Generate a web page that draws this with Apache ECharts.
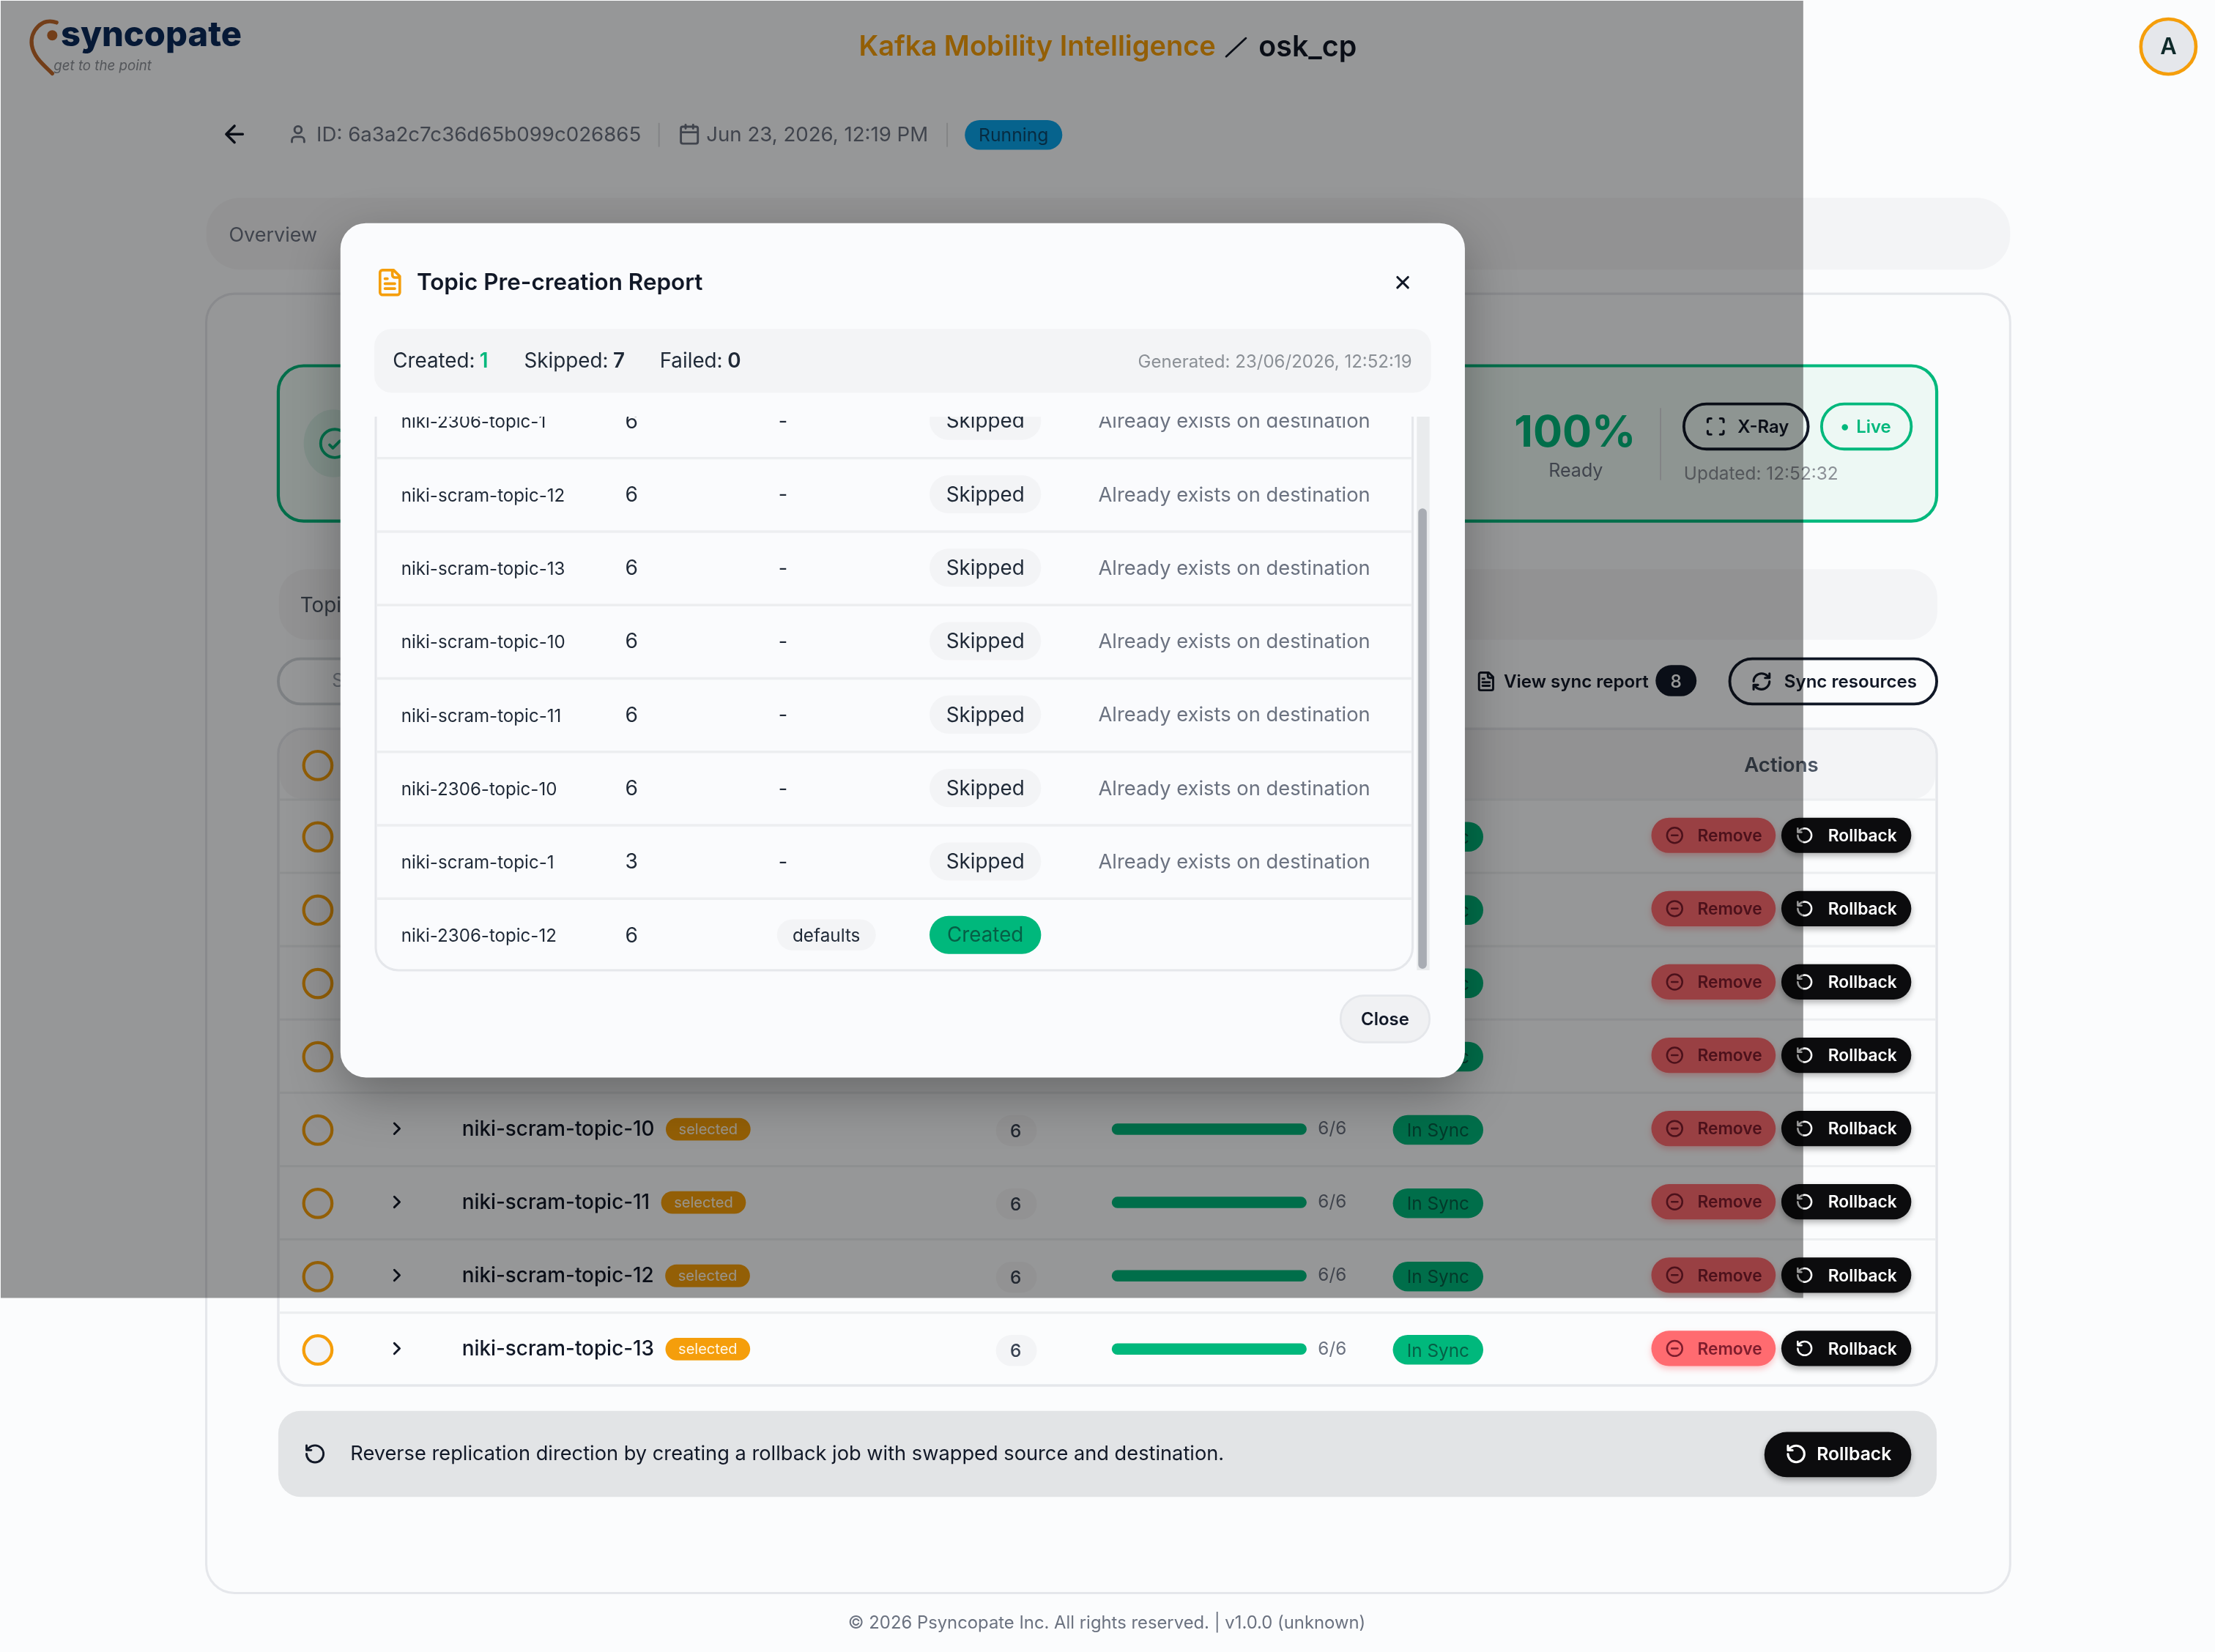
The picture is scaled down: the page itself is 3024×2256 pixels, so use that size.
<!DOCTYPE html>
<html>
<head>
<meta charset="utf-8">
<style>html,body{margin:0;padding:0;background:#fbfcfd}#main{width:3024px;height:2256px}</style>
<script src="https://cdn.jsdelivr.net/npm/echarts@6/dist/echarts.min.js"></script>
</head>
<body>
<div id="main"></div>
<script>
// sync table behind the dialog
var tableTopics = ['niki-2306-topic-1','niki-2306-topic-10','niki-2306-topic-12','niki-scram-topic-1','niki-scram-topic-10','niki-scram-topic-11','niki-scram-topic-12','niki-scram-topic-13'];
var tablePartitions = [6,6,6,3,6,6,6,6];
var tableSynced = [6,6,6,3,6,6,6,6];

// dialog table
var reportTopics = ['niki-2306-topic-1','niki-scram-topic-12','niki-scram-topic-13','niki-scram-topic-10','niki-scram-topic-11','niki-2306-topic-10','niki-scram-topic-1','niki-2306-topic-12'];
var reportPartitions = [6,6,6,6,6,6,3,6];
var reportConfigs = ['-','-','-','-','-','-','-','defaults'];
var reportStatus = ['Skipped','Skipped','Skipped','Skipped','Skipped','Skipped','Skipped','Created'];
var reportReasons = ['Already exists on destination','Already exists on destination','Already exists on destination','Already exists on destination','Already exists on destination','Already exists on destination','Already exists on destination',''];

var S = 3024 / 1568;   // reference was read at 1568 wide
var FONT = 'Inter';
var GREEN = '#00b87c', ORANGE = '#f59e0b', INK = '#111827', GREY = '#6b7280';

var ICON = {
    rotate: 'M3 12a9 9 0 1 0 9-9 9.75 9.75 0 0 0-6.74 2.74L3 8M3 3v5h5',
    minus: 'M22 12a10 10 0 1 1-20 0a10 10 0 1 1 20 0M8 12h8',
    chevron: 'M9 18l6-6-6-6',
    close: 'M18 6L6 18M6 6l12 12',
    back: 'M12 19l-7-7 7-7M19 12H5',
    user: 'M19 21v-2a4 4 0 0 0-4-4H9a4 4 0 0 0-4 4v2M16 7a4 4 0 1 1-8 0a4 4 0 1 1 8 0',
    calendar: 'M8 2v4M16 2v4M5 4h14a2 2 0 0 1 2 2v14a2 2 0 0 1-2 2H5a2 2 0 0 1-2-2V6a2 2 0 0 1 2-2zM3 10h18',
    file: 'M15 2H6a2 2 0 0 0-2 2v16a2 2 0 0 0 2 2h12a2 2 0 0 0 2-2V7ZM14 2v4a2 2 0 0 0 2 2h4M10 9H8M16 13H8M16 17H8',
    refresh: 'M3 12a9 9 0 0 1 9-9 9.75 9.75 0 0 1 6.74 2.74L21 8M21 3v5h-5M21 12a9 9 0 0 1-9 9 9.75 9.75 0 0 1-6.74-2.74L3 16M8 16H3v5',
    focus: 'M3 7V5a2 2 0 0 1 2-2h2M17 3h2a2 2 0 0 1 2 2v2M21 17v2a2 2 0 0 1-2 2h-2M7 21H5a2 2 0 0 1-2-2v-2',
    check: 'M20 6L9 17l-5-5',
    swoosh: 'M40 16C30 12 21 22 22.5 32C24 41 31 46 37 52',
    slash: 'M868 40L882 27'
};
// graphic has no plain path type, so each icon is registered as a shape
Object.keys(ICON).forEach(function (name) {
    echarts.graphic.registerShape('ic_' + name, echarts.graphic.extendPath(ICON[name], {}));
});

var els = [], zNow = 1;

function box(x, y, w, h, r, fill, stroke, lw, extra) {
    var style = { fill: fill || 'transparent', stroke: stroke || null, lineWidth: (lw || 0) * S };
    for (var k in extra) style[k] = extra[k];
    els.push({ type: 'rect', silent: true, z: zNow++, shape: { x: x * S, y: y * S, width: w * S, height: h * S, r: r * S }, style: style });
}
function txt(str, x, y, size, color, weight, align, family, italic) {
    els.push({ type: 'text', silent: true, z: zNow++, style: {
        text: str, x: x * S, y: (y + 0.7) * S, fill: color, fontSize: size * S, fontWeight: weight || 400,
        fontFamily: family || FONT, fontStyle: italic ? 'italic' : 'normal',
        align: align || 'left', verticalAlign: 'middle', textAlign: align || 'left', textVerticalAlign: 'middle'
    } });
}
function icon(name, cx, cy, size, color, lw) {
    var k = size * S / 24;
    els.push({ type: 'ic_' + name, silent: true, z: zNow++, x: cx * S - 12 * k, y: cy * S - 12 * k, scaleX: k, scaleY: k,
        style: { fill: 'none', stroke: color, lineWidth: (lw || 2) * S / k, lineCap: 'round', lineJoin: 'round' } });
}
function curve(name, color, lw) {
    els.push({ type: 'ic_' + name, silent: true, z: zNow++, x: 0, y: 0, scaleX: S, scaleY: S,
        style: { fill: 'none', stroke: color, lineWidth: lw, lineCap: 'round' } });
}
function dot(cx, cy, rx, ry, fill, stroke, lw) {
    els.push({ type: 'ellipse', silent: true, z: zNow++, shape: { cx: cx * S, cy: cy * S, rx: rx * S, ry: ry * S },
        style: { fill: fill || 'transparent', stroke: stroke || null, lineWidth: (lw || 0) * S } });
}
function textWidth(str, size) {
    var c = document.createElement('canvas').getContext('2d');
    c.font = '500 ' + size + 'px ' + FONT;
    return c.measureText(str).width;
}
function rowY(i) { return 592 + 51.9 * i; }

// ---- page behind the overlay
box(0, 0, 1568, 1170, 0, '#fbfcfd');
curve('swoosh', '#c0682a', 2.8);
dot(37, 25, 3.6, 3.6, '#c0682a');
txt('syncopate', 43, 24.5, 24.4, '#0b2a5b', 800);
txt('get to the point', 38, 46, 9.7, '#8b8f96', 400, 'left', FONT, true);
txt('Kafka Mobility Intelligence', 608, 33, 19.7, ORANGE, 600);
curve('slash', INK, 1.4);
txt('osk_cp', 891, 33, 20.4, INK, 600);
dot(1535, 33, 19.5, 19.5, '#e5e7eb', ORANGE, 2.4);
txt('A', 1535, 33, 16, '#0f2a2a', 600, 'center');

icon('back', 166, 95, 20, INK, 1.8);
icon('user', 211, 95, 15, GREY, 1.5);
txt('ID: 6a3a2c7c36d65b099c026865', 224, 95.2, 14.35, GREY);
box(466, 87, 1, 17, 0, '#d9dbde');
icon('calendar', 488, 95, 16, GREY, 1.5);
txt('Jun 23, 2026, 12:19 PM', 500, 95.2, 14.32, GREY);
box(670, 87, 1, 17, 0, '#d9dbde');
box(683, 85, 69, 21, 10.5, '#0ba5ec');
txt('Running', 717.5, 95.5, 12.8, '#0b4a6f', 400, 'center');

box(146, 140, 1277, 51, 24, '#f3f4f6');
txt('Overview', 162, 166, 14, GREY);

box(146, 208, 1277, 920, 20, '#fbfcfd', '#e5e7eb', 1.6);

box(197, 259, 1174, 110, 18, '#edf8f4', GREEN, 2.2);
dot(236, 314, 21, 24, '#d5efe5');
dot(237, 314, 10, 10, 'transparent', GREEN, 2);
icon('check', 237, 315, 11, GREEN, 2);
txt('100%', 1115, 306.5, 30.8, GREEN, 700, 'center');
txt('Ready', 1115.5, 332.8, 13, GREY, 400, 'center');
box(1175, 289, 1, 51, 0, '#d9dbde');
box(1192, 286, 88, 32, 16, 'transparent', INK, 2);
icon('focus', 1214.5, 302, 15, INK, 1.6);
txt('X-Ray', 1230, 302, 12.4, INK, 600);
box(1289.5, 286, 63.5, 32, 16, 'transparent', GREEN, 2);
dot(1306, 302.5, 2.2, 2.2, GREEN);
txt('Live', 1314, 302, 12.4, GREEN, 600);
txt('Updated: 12:52:32', 1192, 335, 12.65, '#8b9096');

box(197.5, 403, 1174, 50, 20, '#f3f4f6');
txt('Topics', 212.5, 428.2, 14.4, '#4b5563');
box(197, 466.5, 500, 32, 16, '#fbfcfd', '#d1d5db', 2);
txt('Search', 235, 482, 13, '#9ca3af');
icon('file', 1052, 482.5, 15, INK, 1.5);
txt('View sync report', 1064.5, 482.2, 12.5, INK, 600);
box(1172, 471, 29, 22, 11, INK);
txt('8', 1186.5, 482.2, 12.6, '#ffffff', 500, 'center');
box(1224.5, 466.5, 146.5, 32, 16, '#fbfcfd', INK, 2);
icon('refresh', 1247, 482.5, 15, INK, 1.6);
txt('Sync resources', 1263, 482.2, 12.5, INK, 600);

// table frame
box(197, 516, 1174, 465, 18, '#fbfcfd', '#e5e7eb', 1.8);
box(198, 517, 1172, 49, 17, '#f3f4f6');
txt('Actions', 1261, 541.5, 14.3, '#4b5563', 600, 'center');
dot(225, 542, 10, 10, '#f3f4f6', ORANGE, 2.2);

tableTopics.forEach(function (name, i) {
    var y = rowY(i);
    box(198, y - 26.6, 1172, 1.6, 0, '#eceef0');
    dot(225, y + 0.6, 10, 10, '#f3f4f6', ORANGE, 2.2);
    icon('chevron', 281, y - 0.4, 15, INK, 1.5);
    txt(name, 327, y - 0.4, 14.44, INK, 500);
    var nameEnd = 327 + textWidth(name, 14.44 * S) / S;
    box(nameEnd + 8, y - 8, 60, 16, 8, ORANGE);
    txt('selected', nameEnd + 38, y - 0.4, 10.4, '#fff7e6', 400, 'center');
    box(705, y - 10, 29, 22, 11, '#f3f4f6');
    txt(String(tablePartitions[i]), 719, y + 1, 12.6, '#374151', 500, 'center');
    box(986, y - 10, 64, 21, 10.5, GREEN);
    txt('In Sync', 1018, y + 0.8, 12.6, '#065f46', 400, 'center');
    box(1169, y - 13, 88, 25, 12.5, '#ff6b70', null, 0, { shadowBlur: 8, shadowOffsetY: 4, shadowColor: 'rgba(255,90,95,0.35)' });
    icon('minus', 1185.5, y - 0.5, 13, '#7f1d2d', 1.3);
    txt('Remove', 1224.5, y - 0.5, 11.8, '#7f1d2d', 600, 'center');
    box(1261, y - 13, 92, 25, 12.5, '#0c0c0e', null, 0, { shadowBlur: 8, shadowOffsetY: 4, shadowColor: 'rgba(0,0,0,0.3)' });
    icon('rotate', 1277.5, y - 0.5, 13, '#ffffff', 1.3);
    txt('Rollback', 1318.5, y - 0.5, 11.8, '#ffffff', 600, 'center');
});

box(197, 999, 1174, 61, 16, '#e2e4e6');
icon('rotate', 223, 1029.5, 16, INK, 1.5);
txt('Reverse replication direction by creating a rollback job with swapped source and destination.', 248, 1029.2, 14.12, INK);
box(1249, 1014, 104, 32, 16, '#0c0c0e', null, 0, { shadowBlur: 8, shadowOffsetY: 4, shadowColor: 'rgba(0,0,0,0.3)' });
icon('rotate', 1271.5, 1029.5, 15.5, '#ffffff', 1.6);
txt('Rollback', 1312.5, 1029.2, 12.8, '#ffffff', 600, 'center');
txt('\u00a9 2026 Psyncopate Inc. All rights reserved. | v1.0.0 (unknown)', 783.5, 1149, 12.36, GREY, 400, 'center');

// ---- dim overlay and dialog sit above the progress bars (series z = 1000)
zNow = 2000;
els.push({ type: 'rect', silent: true, z: zNow++, shape: { x: 1, y: 1, width: 1276 * S, height: 918.5 * S }, style: { fill: 'rgba(0,0,0,0.4)' } });

box(241, 158, 796, 605, 18, '#fafbfd', null, 0, { shadowBlur: 70, shadowOffsetY: 24, shadowColor: 'rgba(0,0,0,0.3)' });
icon('file', 276, 200, 21, ORANGE, 1.9);
txt('Topic Pre-creation Report', 295, 200, 16.28, INK, 600);
icon('close', 993, 200, 15, INK, 1.6);

// dialog table body
box(266, 280, 734, 407, 16, '#fafbfd', '#e5e7eb', 1.6);
reportTopics.forEach(function (name, i) {
    var y = 298 + 52 * i;
    if (i < 7) box(267, y + 25.5, 732, 1.8, 0, '#eceef0');
    txt(name, 284, y + 0.6, 12.5, '#1f2937');
    txt(String(reportPartitions[i]), 442.5, y, 14.6, '#1f2937');
    if (reportConfigs[i] === '-') {
        txt('-', 551, y, 14, '#1f2937');
    } else {
        box(550, y - 11, 70, 22, 11, '#f3f4f6');
        txt(reportConfigs[i], 585, y + 0.2, 12.6, '#1f2937', 400, 'center');
    }
    var created = reportStatus[i] === 'Created';
    box(658, y - 13.5, 79, 27, 13.5, created ? GREEN : '#f3f4f6');
    txt(reportStatus[i], 697.5, y, 14.4, created ? '#065f46' : '#1f2937', 400, 'center');
    if (reportReasons[i]) txt(reportReasons[i], 777.5, y, 14.18, GREY);
});
// first row is scrolled under the summary bar
box(242, 279, 790, 16, 0, '#fafbfd');

box(265, 233, 748, 45, 12, '#f3f4f6');
txt('Created: ', 278, 255.5, 14.4, '#1f2937');
txt('1', 339.5, 255.5, 14.4, GREEN, 600);
txt('Skipped: ', 371, 255.5, 14.4, '#1f2937');
txt('7', 434, 255.5, 14.4, '#1f2937', 600);
txt('Failed: ', 467, 255.5, 14.4, '#1f2937');
txt('0', 515, 255.5, 14.4, '#1f2937', 600);
txt('Generated: 23/06/2026, 12:52:19', 999.5, 255.8, 12.47, '#8b9096', 400, 'right');

box(1003, 295, 9, 392, 0, '#e9ebed');
box(1004, 360, 6, 326, 3, '#a8acb3');

box(949, 705, 63, 33, 16.5, '#f0f1f3', '#e5e7eb', 1.4);
txt('Close', 980.5, 721.5, 12.4, INK, 600, 'center');

var chart = echarts.init(document.getElementById('main'), null, { renderer: 'canvas' });
chart.setOption({
    animation: false,
    backgroundColor: '#fbfcfd',
    // progress bars of the sync table
    grid: { left: 787 * S, width: 138 * S, top: 566 * S, height: 415.2 * S, containLabel: false },
    xAxis: { type: 'value', min: 0, max: 1, show: false },
    yAxis: { type: 'category', inverse: true, data: tableTopics, show: false },
    series: [{
        type: 'bar',
        z: 1000,
        silent: true,
        barWidth: 8 * S,
        itemStyle: { color: GREEN, borderRadius: 4 * S },
        label: {
            show: true,
            position: 'right',
            distance: 8 * S,
            color: GREY,
            fontSize: 12.6 * S,
            fontFamily: FONT,
            formatter: function (p) { return tableSynced[p.dataIndex] + '/' + tablePartitions[p.dataIndex]; }
        },
        data: tableSynced.map(function (v, i) { return v / tablePartitions[i]; })
    }],
    graphic: { elements: els }
});
</script>
</body>
</html>
